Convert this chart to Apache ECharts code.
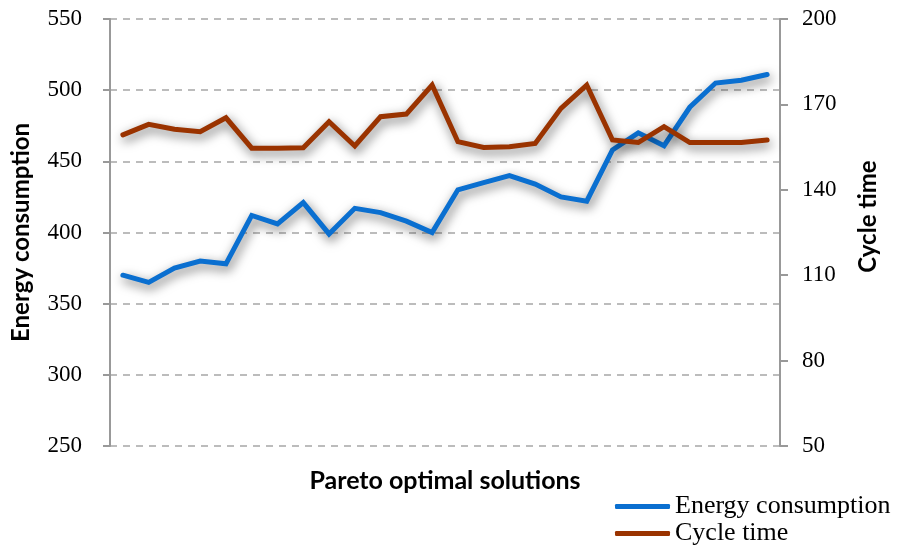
<!DOCTYPE html>
<html>
<head>
<meta charset="utf-8">
<script src="https://cdn.jsdelivr.net/npm/echarts@6/dist/echarts.min.js"></script>
<style>
  html, body { margin: 0; padding: 0; background: #fff; }
  #chart { width: 901px; height: 552px; }
</style>
</head>
<body>
<div id="chart"></div>
<script>
// 26 pareto solutions
var solutions = [];
for (var i = 1; i <= 26; i++) solutions.push('S' + i);

var energy = [370, 365, 375, 380, 378, 412, 406, 421, 399, 417, 414, 408, 400,
    430, 435, 440, 434, 425, 422, 458, 470, 461, 488, 505, 507, 511];
var cycleTime = [159.3, 163, 161.3, 160.4, 165.3, 154.6, 154.6, 154.8, 163.9, 155.4, 165.7, 166.6, 176.8,
    156.9, 154.9, 155.1, 156.3, 168.6, 176.8, 157.5, 156.6, 162.2, 156.6, 156.6, 156.6, 157.5];

var serif = '"Liberation Serif", "Times New Roman", serif';
var sans = 'Lato, "Open Sans", sans-serif';

var myChart = echarts.init(document.getElementById('chart'));

var shadow = {
    shadowColor: 'rgba(0,0,0,0.6)',
    shadowBlur: 11,
    shadowOffsetX: 2,
    shadowOffsetY: 4
};

var nameStyle = {
    fontFamily: sans,
    fontWeight: 'bold',
    fontSize: 24,
    color: '#000'
};

var option = {
    animation: false,
    color: ['#0a6fd0', '#9a3300'],
    grid: {
        left: 110,
        right: 121,
        top: 19,
        bottom: 106
    },
    legend: {
        orient: 'vertical',
        left: 615,
        top: 493,
        padding: 0,
        itemWidth: 55,
        itemHeight: 5,
        itemGap: 0,
        icon: 'roundRect',
        textStyle: {
            fontFamily: serif,
            fontSize: 26,
            lineHeight: 27,
            color: '#000',
            padding: [0, 0, 0, 0]
        },
        data: ['Energy consumption', 'Cycle time']
    },
    xAxis: {
        type: 'category',
        data: solutions,
        name: 'Pareto optimal solutions',
        nameLocation: 'middle',
        nameGap: 22,
        nameTextStyle: Object.assign({}, nameStyle, { fontSize: 25 }),
        axisLine: { show: false },
        axisTick: { show: false },
        axisLabel: { show: false }
    },
    yAxis: [
        {
            type: 'value',
            min: 250,
            max: 550,
            interval: 50,
            name: 'Energy consumption',
            nameLocation: 'middle',
            nameGap: 77,
            nameTextStyle: nameStyle,
            axisLine: { show: true, lineStyle: { color: '#999', width: 2 } },
            axisTick: { show: true, length: 7, lineStyle: { color: '#999', width: 2 } },
            axisLabel: {
                margin: 28,
                fontFamily: serif,
                fontSize: 23,
                color: '#000'
            },
            splitLine: {
                show: true,
                lineStyle: { color: '#a6a6a6', width: 1.5, type: [7, 6] }
            }
        },
        {
            type: 'value',
            min: 50,
            max: 200,
            interval: 30,
            name: 'Cycle time',
            nameLocation: 'middle',
            nameGap: 76,
            nameRotate: 90,
            nameTextStyle: Object.assign({}, nameStyle, { padding: [0, 0, 0, 32] }),
            axisLine: { show: true, lineStyle: { color: '#999', width: 2 } },
            axisTick: { show: true, length: 8, lineStyle: { color: '#999', width: 2 } },
            axisLabel: {
                margin: 22,
                fontFamily: serif,
                fontSize: 23,
                color: '#000'
            },
            splitLine: { show: false }
        }
    ],
    series: [
        {
            name: 'Energy consumption',
            type: 'line',
            yAxisIndex: 0,
            data: energy,
            symbol: 'none',
            lineStyle: Object.assign({ width: 5, color: '#0a6fd0', cap: 'round', join: 'miter' }, shadow)
        },
        {
            name: 'Cycle time',
            type: 'line',
            yAxisIndex: 1,
            data: cycleTime,
            symbol: 'none',
            lineStyle: Object.assign({ width: 5, color: '#9a3300', cap: 'round', join: 'miter' }, shadow)
        }
    ]
};
myChart.setOption(option);
</script>
</body>
</html>
